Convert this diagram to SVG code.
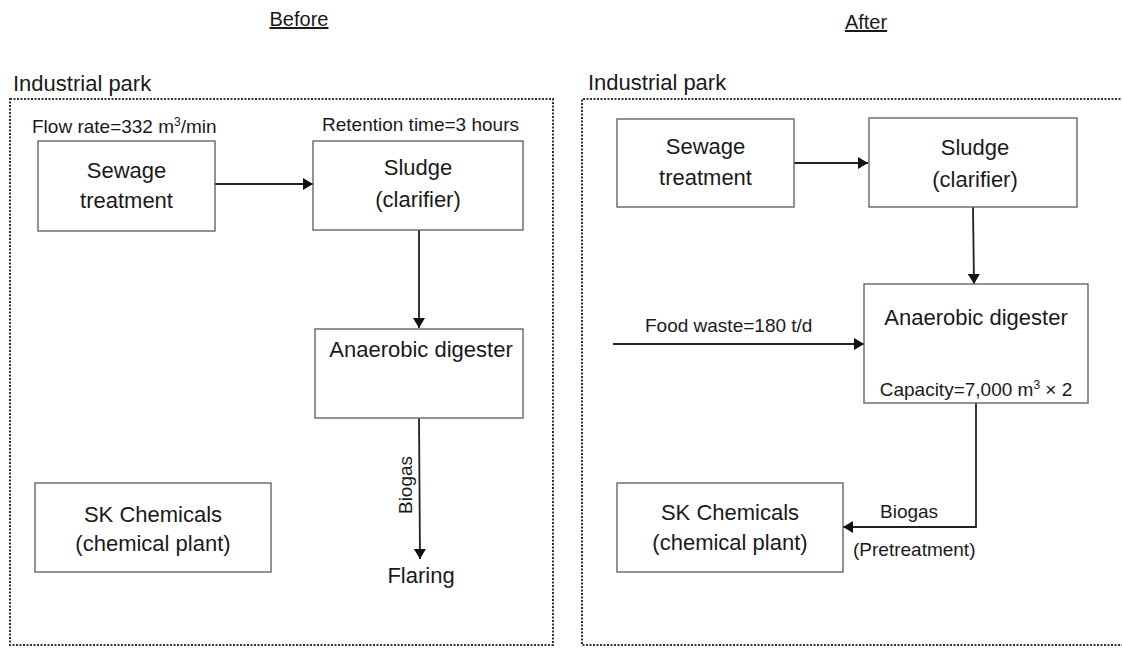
<svg xmlns="http://www.w3.org/2000/svg" width="1122" height="648" viewBox="0 0 1122 648">
<style>
text{font-family:"Liberation Sans",Arial,sans-serif;fill:#1a1a1a}
.t{font-size:22px}
.l{font-size:19px}
.m{text-anchor:middle}
.box{fill:#fff;stroke:#666;stroke-width:1.4}
.park{fill:none;stroke:#333;stroke-width:2;stroke-dasharray:2 1.5}
.c{fill:none;stroke:#222;stroke-width:1.8}
</style>
<defs>
<marker id="ah" viewBox="0 0 10 12" refX="10" refY="6" markerWidth="10" markerHeight="12" markerUnits="userSpaceOnUse" orient="auto">
<path d="M0,0 L10,6 L0,12 z" fill="#111"/>
</marker>
</defs>
<rect width="1122" height="648" fill="#fff"/>

<g id="titles">
<text class="t m" x="299" y="26" style="font-size:20px" text-decoration="underline">Before</text>
<text class="t m" x="866" y="29" style="font-size:20px" text-decoration="underline">After</text>
</g>

<g id="park-before">
<rect class="park" x="10" y="99" width="543" height="546"/>
<text class="t" x="13" y="91">Industrial park</text>
</g>
<g id="park-after">
<path class="park" d="M1124,99 H582 V645 H1124"/>
<text class="t" x="588" y="90">Industrial park</text>
</g>

<g id="connectors">
<line class="c" x1="215" y1="184" x2="313" y2="184" marker-end="url(#ah)"/>
<line class="c" x1="419" y1="230" x2="419" y2="328" marker-end="url(#ah)"/>
<line class="c" x1="419" y1="418" x2="420" y2="559" marker-end="url(#ah)"/>
<line class="c" x1="794" y1="163" x2="868" y2="163" marker-end="url(#ah)"/>
<line class="c" x1="973" y1="207" x2="974" y2="284" marker-end="url(#ah)"/>
<line class="c" x1="613" y1="344" x2="864" y2="344" marker-end="url(#ah)"/>
<polyline class="c" points="976,403 976,527 843,527" marker-end="url(#ah)"/>
<text class="l m" transform="translate(412,485) rotate(-90)">Biogas</text>
<text class="t m" x="421" y="583">Flaring</text>
<text class="l" x="645" y="332">Food waste=180 t/d</text>
<text class="l" x="880" y="518">Biogas</text>
<text class="l" x="853" y="556">(Pretreatment)</text>
</g>

<g id="b-sewage">
<text class="l" x="32" y="133">Flow rate=332 m<tspan font-size="12" dy="-7">3</tspan><tspan dy="7">/min</tspan></text>
<rect class="box" x="38" y="141" width="177" height="90"/>
<text class="t m" x="126.5" y="178">Sewage</text>
<text class="t m" x="126.5" y="208">treatment</text>
</g>
<g id="b-sludge">
<text class="l" x="322" y="131">Retention time=3 hours</text>
<rect class="box" x="313" y="141" width="210" height="89"/>
<text class="t m" x="418" y="175">Sludge</text>
<text class="t m" x="418" y="207">(clarifier)</text>
</g>
<g id="b-digester">
<rect class="box" x="315" y="329" width="208" height="89"/>
<text class="t m" x="421" y="357">Anaerobic digester</text>
</g>
<g id="b-sk">
<rect class="box" x="35" y="483" width="236" height="89"/>
<text class="t m" x="153" y="522">SK Chemicals</text>
<text class="t m" x="153" y="551">(chemical plant)</text>
</g>

<g id="a-sewage">
<rect class="box" x="617" y="119" width="177" height="88"/>
<text class="t m" x="705.5" y="154">Sewage</text>
<text class="t m" x="705.5" y="185">treatment</text>
</g>
<g id="a-sludge">
<rect class="box" x="869" y="118" width="208" height="89"/>
<text class="t m" x="975" y="155">Sludge</text>
<text class="t m" x="975" y="187">(clarifier)</text>
</g>
<g id="a-digester">
<rect class="box" x="864" y="284" width="224" height="119"/>
<text class="t m" x="976" y="325">Anaerobic digester</text>
<text class="l m" x="976" y="396">Capacity=7,000 m<tspan font-size="12" dy="-7">3</tspan><tspan dy="7"> × 2</tspan></text>
</g>
<g id="a-sk">
<rect class="box" x="617" y="483" width="226" height="89"/>
<text class="t m" x="730" y="520">SK Chemicals</text>
<text class="t m" x="730" y="550">(chemical plant)</text>
</g>
</svg>
